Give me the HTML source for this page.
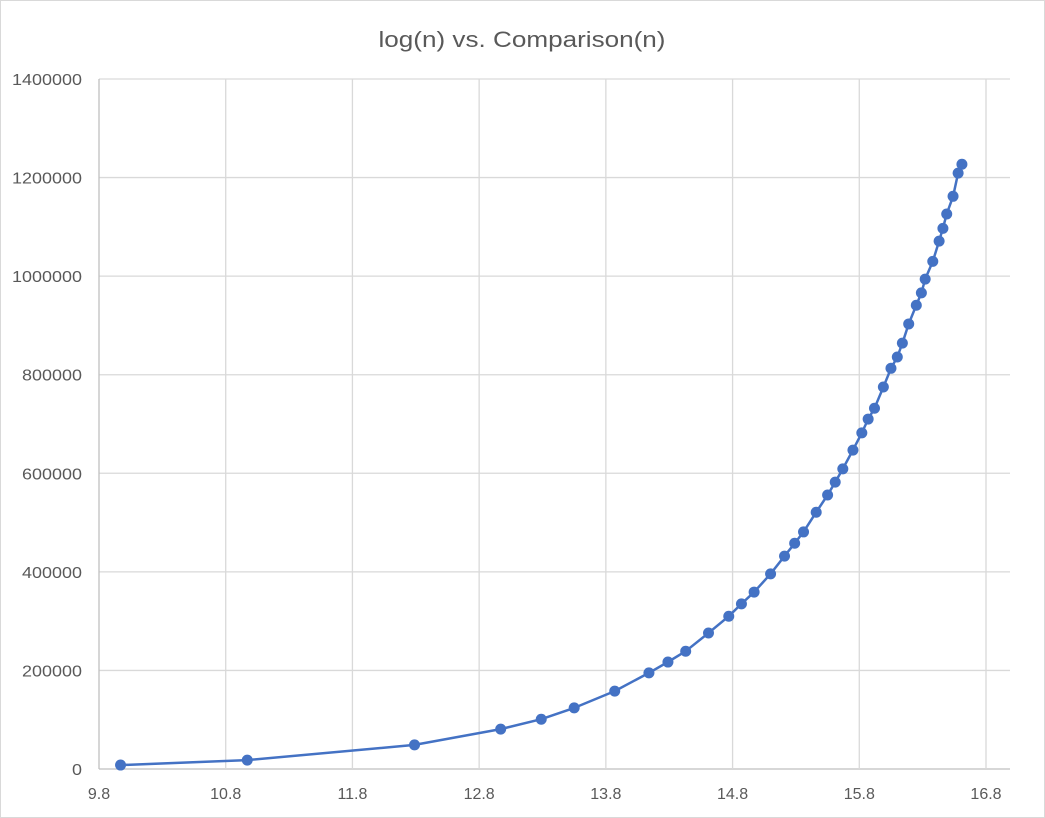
<!DOCTYPE html>
<html><head><meta charset="utf-8"><style>
html,body{margin:0;padding:0;background:#fff;}
svg{display:block;font-family:"Liberation Sans",sans-serif;}
</style></head><body>
<svg id="chart" width="1045" height="818" xmlns="http://www.w3.org/2000/svg">
<rect x="0.5" y="0.5" width="1044" height="817" fill="#fff" stroke="#d9d9d9"/>
<text x="522" y="47" text-anchor="middle" font-size="22" fill="#595959" textLength="287" lengthAdjust="spacingAndGlyphs">log(n) vs. Comparison(n)</text>
<g id="grid"></g>
<g id="axes"></g>
<g id="series"></g>
</svg>
<script>
const xTicks=[9.8,10.8,11.8,12.8,13.8,14.8,15.8,16.8];
const yTicks=[0,200000,400000,600000,800000,1000000,1200000,1400000];
const xValues=[9.97,10.97,12.29,12.97,13.29,13.55,13.87,14.14,14.29,14.43,14.61,14.77,14.87,14.97,15.1,15.21,15.29,15.36,15.46,15.55,15.61,15.67,15.75,15.82,15.87,15.92,15.99,16.05,16.1,16.14,16.19,16.25,16.29,16.32,16.38,16.43,16.46,16.49,16.54,16.58,16.61];
const yValues=[8000,18000,49000,81000,101000,124000,158000,195000,217000,239000,276000,310000,335000,359000,396000,432000,458000,481000,521000,556000,582000,609000,647000,682000,710000,732000,775000,813000,836000,864000,903000,941000,966000,994000,1030000,1071000,1097000,1126000,1162000,1209000,1227000];
const NS='http://www.w3.org/2000/svg';
const L=99,R=1010,T=79,B=769;
const xMin=9.8,xMax=16.8,yMin=0,yMax=1400000;
const xS=v=>L+(v-xMin)/(xMax-xMin)*(986-L);
const yS=v=>B-(v-yMin)/(yMax-yMin)*(B-T);
function mk(tag,attrs,parent){const e=document.createElementNS(NS,tag);for(const k in attrs)e.setAttribute(k,attrs[k]);parent.appendChild(e);return e;}
const grid=document.getElementById('grid'),axes=document.getElementById('axes'),ser=document.getElementById('series');
yTicks.forEach(t=>{
  const y=yS(t);
  const l=mk('line',{x1:L,x2:R,y1:y,y2:y,stroke:t===0?'#bfbfbf':'#d9d9d9','stroke-width':1.3},grid);
  
  
  const s=String(t);
  const tx=mk('text',{x:82,y:y+6,'text-anchor':'end','font-size':16,fill:'#595959',textLength:s.length*10,lengthAdjust:'spacingAndGlyphs'},axes);
  tx.textContent=s;
  
  
});
xTicks.forEach(t=>{
  const x=xS(t);
  const l=mk('line',{x1:x,x2:x,y1:T,y2:B,stroke:t===xMin?'#bfbfbf':'#d9d9d9','stroke-width':1.3},grid);
  
  
  const tx=mk('text',{x:x,y:799,'text-anchor':'middle','font-size':16,fill:'#595959'},axes);
  tx.textContent=t.toFixed(1);
  
  
});
const pts=xValues.map((v,i)=>xS(v).toFixed(1)+','+yS(yValues[i]).toFixed(1)).join(' ');
const pl=mk('polyline',{points:pts,fill:'none',stroke:'#4472c4','stroke-width':2.5,'stroke-linejoin':'round'},ser);


xValues.forEach((v,i)=>{
  const c=mk('circle',{cx:xS(v),cy:yS(yValues[i]),r:5.5,fill:'#4472c4'},ser);
  
  
});
</script>
</body></html>
